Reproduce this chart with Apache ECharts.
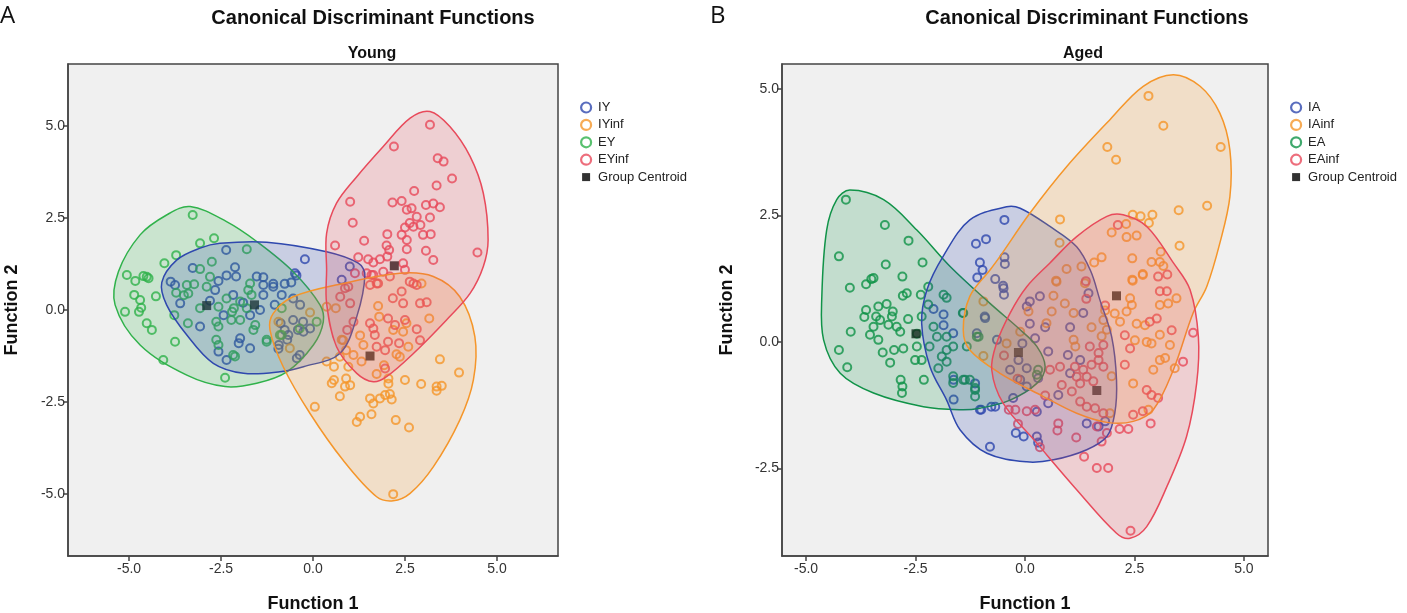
<!DOCTYPE html>
<html>
<head>
<meta charset="utf-8">
<script src="https://cdn.jsdelivr.net/npm/echarts@6/dist/echarts.min.js"></script>
<style>html,body{margin:0;padding:0;background:#fff;}#c{width:1407px;height:613px;}</style>
</head>
<body>
<div id="c"></div>
<script>
// ---------- tick labels ----------
const xTicks = [-5, -2.5, 0, 2.5, 5];
const yTicksA = [-5, -2.5, 0, 2.5, 5];
const yTicksB = [-2.5, 0, 2.5, 5];

// ---------- Panel A: Young ----------
const IY = [[-2.36,1.63],[-0.22,1.38],[-2.12,1.16],[-3.27,1.14],[-2.35,0.94],[-2.09,0.91],[-1.53,0.91],[-1.35,0.89],[-1.08,0.71],[-0.77,0.71],[-0.59,0.75],[-0.45,0.94],[-3.87,0.77],[-3.75,0.68],[-2.57,0.79],[-2.66,0.54],[-1.35,0.68],[-1.35,0.41],[-1.08,0.63],[-0.54,0.31],[-3.61,0.18],[-3.07,-0.45],[-2.43,-0.14],[-1.44,0.00],[-1.04,0.14],[-0.85,0.41],[-1.98,-0.77],[-2.02,-0.90],[-1.71,-1.04],[-2.57,-1.13],[-2.35,-1.36],[-0.93,-0.95],[-0.70,-0.81],[-0.54,-0.27],[-0.27,-0.32],[-0.41,-0.54],[-0.77,-0.54],[-0.36,-1.22],[-0.88,-0.36],[-1.71,-0.14],[-2.17,0.41],[1.00,1.18],[0.78,0.82],[-0.49,1.00],[-0.94,-1.05],[-0.26,-0.59],[-0.35,0.14],[-0.08,-0.50],[-0.67,-0.68],[-0.44,-1.31],[-1.90,0.20],[-2.80,0.25]];
const IYinf = [[2.18,-5.00],[0.05,-2.63],[1.19,-3.04],[1.28,-2.90],[1.59,-2.83],[2.25,-2.99],[2.61,-3.19],[1.55,-2.40],[1.64,-2.54],[1.82,-2.40],[1.96,-2.31],[2.09,-2.28],[2.14,-2.43],[0.73,-2.34],[0.51,-1.99],[0.57,-1.90],[0.90,-1.86],[0.87,-2.08],[1.01,-2.04],[2.05,-2.00],[2.50,-1.90],[2.94,-2.01],[3.36,-2.08],[3.50,-2.06],[3.36,-2.19],[3.45,-1.34],[3.97,-1.70],[0.37,-1.40],[0.57,-1.54],[0.73,-1.27],[0.96,-1.54],[0.78,-0.81],[0.90,-1.09],[1.10,-1.22],[1.32,-1.40],[1.73,-1.74],[2.05,-1.86],[1.28,-0.69],[1.37,-0.95],[1.77,0.11],[1.80,-0.18],[2.18,-0.54],[2.45,-0.59],[2.36,-1.27],[2.59,-1.00],[2.27,-1.20],[2.54,-0.36],[3.16,-0.23],[2.95,0.72],[-0.08,-0.07],[-0.63,-1.04],[-0.94,-0.32],[0.37,0.09],[0.62,0.05],[0.82,-0.82],[1.93,-1.50]];
const EY = [[-3.27,2.58],[-3.07,1.81],[-2.69,1.95],[-1.80,1.65],[-3.72,1.49],[-4.04,1.27],[-5.06,0.95],[-4.83,0.79],[-4.61,0.92],[-4.52,0.90],[-4.47,0.86],[-2.75,1.31],[-4.86,0.41],[-4.70,0.27],[-4.27,0.37],[-5.11,-0.05],[-4.73,-0.05],[-4.67,0.06],[-4.52,-0.36],[-4.38,-0.54],[-3.75,-0.86],[-4.07,-1.36],[-2.39,-1.84],[-3.77,-0.14],[-3.40,-0.36],[-3.51,0.40],[-3.43,0.68],[-3.23,0.70],[-3.07,1.11],[-2.80,0.90],[-2.89,0.63],[-3.72,0.47],[-3.39,0.45],[-3.07,0.05],[-2.57,0.09],[-2.35,0.31],[-2.15,0.05],[-1.98,0.23],[-1.76,0.54],[-1.67,0.41],[-1.71,0.72],[-2.20,-0.05],[-1.80,0.05],[-2.63,-0.32],[-2.22,-0.27],[-1.98,-0.27],[-2.57,-0.45],[-1.57,-0.41],[-1.62,-0.54],[-2.63,-0.81],[-2.57,-0.95],[-2.17,-1.22],[-2.12,-1.26],[-1.26,-0.81],[-0.85,-0.68],[0.10,-0.32],[-0.36,-0.50],[-0.85,0.05],[-1.26,-0.86],[-0.90,-0.68]];
const EYinf = [[3.18,5.03],[2.20,4.44],[3.39,4.12],[3.55,4.03],[3.78,3.57],[3.36,3.38],[2.75,3.23],[1.01,2.94],[2.16,2.92],[2.41,2.96],[2.55,2.72],[2.68,2.76],[3.07,2.85],[3.27,2.89],[3.45,2.79],[1.08,2.37],[2.82,2.53],[3.18,2.51],[2.63,2.36],[2.50,2.24],[2.73,2.26],[2.92,2.31],[2.41,2.04],[2.99,2.04],[3.20,2.06],[2.02,2.06],[2.55,1.90],[1.39,1.88],[0.60,1.75],[2.00,1.75],[2.07,1.63],[2.55,1.65],[3.07,1.61],[4.47,1.56],[1.23,1.43],[1.50,1.38],[1.64,1.29],[1.82,1.38],[2.02,1.45],[3.27,1.36],[2.45,1.27],[2.50,1.09],[1.46,1.00],[1.64,0.95],[1.91,1.04],[2.09,0.91],[1.55,0.68],[1.77,0.72],[2.63,0.77],[2.82,0.68],[0.87,0.59],[1.14,1.00],[1.59,0.95],[1.73,0.72],[2.41,0.50],[2.17,0.32],[2.73,0.72],[2.91,0.18],[3.09,0.21],[2.45,0.18],[2.23,-0.41],[1.55,-0.36],[1.64,-0.50],[1.68,-0.68],[2.04,-0.23],[2.50,-0.27],[2.82,-0.52],[2.91,-0.82],[2.04,-0.86],[2.34,-0.90],[1.96,-1.09],[1.73,-1.00],[0.93,-0.54],[1.10,-0.32],[1.01,0.18],[0.74,0.36],[0.96,0.63],[1.96,-1.59]];
const centA = [[-2.89,0.12],[-1.59,0.14],[2.21,1.20],[1.55,-1.25]];

const hullIY = [[-4.11,0.75],[-3.70,1.36],[-3.07,1.68],[-2.53,1.81],[-1.26,1.84],[0.37,1.58],[1.23,1.27],[1.41,0.95],[1.19,-0.18],[0.73,-1.18],[-0.26,-1.54],[-0.90,-1.68],[-1.89,-1.72],[-2.71,-1.45],[-3.43,-0.68],[-3.98,0.14]];
const hullIYinf = [[-1.08,-0.09],[-0.54,0.36],[0.82,0.72],[2.36,1.00],[3.27,0.91],[3.99,0.36],[4.40,-0.72],[4.36,-1.90],[3.99,-2.99],[3.27,-4.26],[2.64,-4.98],[2.18,-5.18],[1.73,-5.07],[0.82,-4.08],[-0.08,-2.81],[-0.81,-1.54],[-1.17,-0.54]];
const hullEY = [[-3.34,2.81],[-2.35,2.40],[-1.53,1.86],[-0.54,1.04],[0.19,0.14],[0.28,-0.32],[0.01,-0.95],[-0.71,-1.68],[-1.53,-1.99],[-2.39,-2.08],[-3.43,-1.77],[-4.70,-0.95],[-5.38,0.14],[-5.29,1.04],[-4.70,2.04],[-3.98,2.58]];
const hullEYinf = [[3.18,5.39],[3.72,4.98],[4.27,4.17],[4.63,3.17],[4.76,1.90],[4.63,1.18],[4.27,0.45],[3.63,-0.27],[2.73,-1.18],[2.00,-1.81],[1.64,-1.95],[1.19,-1.72],[0.64,-1.00],[0.37,0.18],[0.37,1.09],[0.37,2.08],[0.64,2.90],[1.19,3.62],[1.91,4.44],[2.64,5.21]];

// ---------- Panel B: Aged ----------
const IA = [[-0.47,2.41],[-1.12,1.94],[-0.89,2.03],[-1.03,1.57],[-0.97,1.42],[-1.09,1.27],[-0.47,1.67],[-0.46,1.54],[-0.68,1.24],[-0.50,1.11],[-0.48,0.93],[-2.09,0.65],[-1.86,0.54],[-1.64,0.17],[-1.86,0.33],[-0.92,0.50],[-1.63,-0.75],[-1.63,-1.14],[-1.00,-1.34],[-0.77,-1.28],[-1.14,-0.82],[-0.06,-0.03],[-1.10,0.17],[-0.64,0.04],[-0.49,1.06],[-0.91,0.47],[0.04,0.70],[0.11,0.80],[0.34,0.90],[0.11,0.36],[0.46,0.29],[1.03,0.29],[1.45,0.96],[1.33,0.57],[0.23,0.07],[0.53,-0.19],[0.98,-0.26],[1.26,-0.36],[-0.15,-0.36],[0.04,-0.52],[-0.34,-0.55],[-0.11,-0.75],[0.30,-0.72],[0.04,-0.88],[-0.27,-1.11],[0.76,-1.05],[0.53,-1.21],[0.27,-1.38],[-0.21,-1.80],[-0.03,-1.87],[0.27,-1.87],[0.30,-1.99],[-0.80,-2.07],[-1.03,-1.34],[-0.68,-1.28],[1.41,-1.61],[1.68,-1.67],[1.83,-1.57],[1.03,-0.62]];
const IAinf = [[2.82,4.86],[3.16,4.27],[4.47,3.85],[1.88,3.85],[2.08,3.60],[0.80,2.42],[2.46,2.51],[2.64,2.48],[2.91,2.51],[2.83,2.35],[3.51,2.60],[4.16,2.69],[3.53,1.90],[3.10,1.78],[2.31,2.33],[1.98,2.16],[2.32,2.07],[2.55,2.10],[0.79,1.96],[1.75,1.67],[1.58,1.57],[2.45,1.65],[2.89,1.58],[3.08,1.58],[3.16,1.50],[2.69,1.34],[2.45,1.23],[0.95,1.44],[1.29,1.49],[0.71,1.21],[0.72,1.19],[1.37,1.16],[2.46,1.21],[2.69,1.32],[0.65,0.91],[0.91,0.76],[0.61,0.60],[1.11,0.57],[0.08,0.60],[0.49,0.37],[1.52,0.29],[1.83,0.62],[1.87,0.24],[1.75,0.11],[1.79,0.43],[2.05,0.56],[2.40,0.86],[2.44,0.73],[2.32,0.60],[2.17,0.40],[2.55,0.36],[2.74,0.33],[3.08,0.73],[3.27,0.76],[3.46,0.86],[3.08,0.14],[2.78,0.00],[2.89,-0.03],[3.31,-0.06],[2.51,0.03],[3.08,-0.36],[3.20,-0.32],[2.93,-0.55],[3.42,-0.52],[2.47,-0.82],[2.82,-1.34],[-0.95,0.80],[-0.95,-0.28],[-0.42,-0.03],[-0.11,0.20],[1.11,0.04],[1.15,-0.09],[1.98,-0.68],[1.94,-1.41]];
const EA = [[-4.09,2.81],[-3.20,2.31],[-2.66,2.00],[-4.25,1.69],[-3.18,1.53],[-2.34,1.57],[-2.80,1.29],[-4.00,1.07],[-3.63,1.14],[-3.51,1.24],[-3.46,1.26],[-2.79,0.91],[-2.70,0.96],[-2.38,0.93],[-2.21,1.09],[-3.63,0.63],[-3.67,0.49],[-3.35,0.70],[-3.16,0.75],[-3.02,0.60],[-3.04,0.50],[-3.40,0.50],[-3.46,0.30],[-3.31,0.43],[-3.12,0.34],[-2.93,0.30],[-2.85,0.20],[-3.54,0.14],[-3.35,0.04],[-3.98,0.20],[-4.25,-0.16],[-4.06,-0.50],[-3.25,-0.21],[-3.08,-0.41],[-2.99,-0.16],[-2.78,-0.13],[-2.67,0.45],[-2.36,0.50],[-2.47,-0.09],[-2.36,-0.36],[-2.51,-0.36],[-2.18,-0.09],[-2.84,-0.75],[-2.80,-0.88],[-2.81,-1.01],[-2.31,-0.75],[-2.09,0.30],[-2.01,0.10],[-1.79,0.10],[-1.79,-0.16],[-1.64,-0.09],[-1.90,-0.29],[-1.79,-0.39],[-1.98,-0.52],[-1.64,-0.68],[-1.64,-0.81],[-1.41,-0.75],[-1.26,-0.75],[-1.14,-0.95],[-1.42,0.57],[-1.86,0.93],[-1.79,0.87],[-2.21,0.74],[-1.06,0.10],[-2.47,0.16],[-1.41,0.57],[-1.33,-0.09],[-1.10,0.10],[-1.37,-0.75],[-1.14,-0.91],[-1.14,-1.08],[0.27,-0.65],[0.30,-0.55]];
const EAinf = [[2.41,-3.73],[1.64,-2.49],[1.90,-2.49],[1.35,-2.27],[1.17,-1.89],[0.76,-1.61],[0.74,-1.75],[0.34,-2.08],[-0.16,-1.62],[-0.37,-1.34],[-0.22,-1.34],[0.04,-1.37],[0.23,-1.34],[0.46,-1.06],[0.84,-0.85],[1.07,-0.98],[1.26,-1.18],[1.41,-1.28],[1.60,-1.31],[1.79,-1.41],[1.87,-1.80],[1.75,-1.97],[1.64,-1.67],[2.16,-1.72],[2.36,-1.72],[2.47,-1.44],[2.69,-1.37],[2.87,-1.61],[2.78,-0.95],[2.89,-1.05],[3.04,-1.11],[0.57,-0.55],[0.80,-0.49],[1.14,-0.49],[1.33,-0.55],[1.52,-0.45],[1.68,-0.36],[1.79,-0.49],[1.18,-0.69],[1.41,-0.69],[1.26,-0.82],[1.56,-0.78],[1.48,-0.09],[1.79,-0.06],[1.68,-0.22],[2.28,-0.45],[2.40,-0.13],[2.28,0.13],[2.85,0.40],[3.01,0.46],[3.35,0.23],[3.61,-0.39],[3.84,0.18],[1.83,0.72],[1.40,0.85],[3.08,1.00],[3.24,1.00],[-0.17,-0.73],[-0.48,-0.27],[2.12,2.31],[3.04,1.29],[3.25,1.33],[1.39,1.20]];
const centB = [[-2.49,0.16],[-0.15,-0.21],[1.64,-0.96],[2.09,0.91]];

const hullIA = [[-0.42,2.67],[-1.26,2.41],[-1.87,1.69],[-2.24,1.03],[-2.36,0.37],[-2.17,-0.49],[-1.79,-1.15],[-1.48,-1.74],[-0.87,-2.20],[0.04,-2.37],[0.65,-2.33],[1.41,-2.13],[1.87,-1.87],[2.05,-1.41],[2.09,-0.75],[1.98,0.10],[1.71,0.83],[1.50,1.40],[1.18,1.88],[0.57,2.28],[-0.11,2.64]];
const hullIAinf = [[3.39,5.28],[4.00,5.05],[4.45,4.52],[4.68,3.79],[4.68,2.87],[4.45,1.95],[4.15,1.09],[3.84,0.57],[3.39,-0.55],[2.93,-1.34],[2.47,-1.57],[1.87,-1.59],[1.18,-1.41],[0.42,-1.08],[-0.57,-0.62],[-1.26,-0.16],[-1.41,0.24],[-1.26,0.90],[-0.80,1.42],[-0.57,1.69],[0.11,2.54],[0.95,3.46],[1.94,4.39],[2.70,5.05]];
const hullEA = [[-4.00,3.00],[-3.23,2.81],[-2.47,2.21],[-1.71,1.49],[-0.80,0.76],[-0.11,0.24],[0.27,-0.09],[0.46,-0.49],[0.27,-0.82],[-0.34,-1.15],[-1.03,-1.31],[-1.48,-1.34],[-2.32,-1.28],[-3.46,-1.01],[-4.22,-0.62],[-4.60,0.04],[-4.64,0.90],[-4.53,2.21],[-4.30,2.81]];
const hullEAinf = [[2.24,2.51],[2.78,2.28],[3.39,1.56],[3.77,1.03],[3.96,0.10],[3.92,-0.82],[3.69,-1.87],[3.24,-2.86],[2.78,-3.65],[2.40,-3.88],[2.09,-3.78],[1.18,-2.92],[0.27,-2.00],[-0.50,-1.21],[-0.76,-0.55],[-0.65,-0.03],[-0.34,0.57],[0.04,1.09],[0.57,1.56],[1.18,2.08],[1.87,2.48]];

// ---------- styling ----------
const C = {blue:'#2f48ae', orange:'#f5962a', greenA:'#30b24b', greenB:'#109348', red:'#e84a5b'};
const FONT = "'Liberation Sans', Arial, sans-serif";
const NARROW = "'Liberation Sans Narrow', 'Liberation Sans', Arial, sans-serif";

function hexA(h, a){const n=parseInt(h.slice(1),16);return `rgba(${n>>16&255},${n>>8&255},${n&255},${a})`;}

function pts(name, data, color, gi){
  return {type:'scatter', name, xAxisIndex:gi, yAxisIndex:gi, data, symbol:'circle', symbolSize:8,
    itemStyle:{color:'rgba(0,0,0,0)', borderColor:color, borderWidth:2}, silent:true, z:2};
}
function cent(data, gi){
  return {type:'scatter', name:'Group Centroid', xAxisIndex:gi, yAxisIndex:gi, data, symbol:'rect', symbolSize:9,
    itemStyle:{color:'#111'}, silent:true, z:2};
}
function hull(hp, color, gi){
  return {type:'custom', xAxisIndex:gi, yAxisIndex:gi, data:hp, silent:true, z:3, clip:true,
    encode:{x:0,y:1},
    renderItem:function(params, api){
      if(params.dataIndex!==0) return null;
      const p = hp.map(q=>api.coord(q));
      return {type:'polygon', shape:{points:p, smooth:0.35},
        style:{fill:hexA(color,0.2), stroke:color, lineWidth:1.5}};
    }};
}
function xAx(gi, min, max){
  return {gridIndex:gi, type:'value', min, max, name:'Function 1', nameLocation:'middle', nameGap:39,
    nameTextStyle:{fontFamily:FONT, fontWeight:'bold', fontSize:18, color:'#111'},
    axisLine:{show:true, onZero:false, lineStyle:{color:'#444', width:1.5}},
    axisTick:{show:true, length:5, customValues:xTicks, lineStyle:{color:'#444', width:1.5}},
    axisLabel:{customValues:xTicks, formatter:v=>Number(v).toFixed(1), fontFamily:NARROW, fontSize:14, color:'#333', margin:6},
    splitLine:{show:false}};
}
function yAx(gi, min, max, ticks, gap){
  return {gridIndex:gi, type:'value', min, max, name:'Function 2', nameLocation:'middle', nameGap:gap, nameRotate:90,
    nameTextStyle:{fontFamily:FONT, fontWeight:'bold', fontSize:18, color:'#111'},
    axisLine:{show:true, onZero:false, lineStyle:{color:'#444', width:1.5}},
    axisTick:{show:true, length:5, customValues:ticks, lineStyle:{color:'#444', width:1.5}},
    axisLabel:{customValues:ticks, formatter:v=>Number(v).toFixed(1), fontFamily:NARROW, fontSize:14, color:'#333', margin:3},
    splitLine:{show:false}};
}
const sq = 'image://data:image/svg+xml;utf8,' + encodeURIComponent('<svg xmlns="http://www.w3.org/2000/svg" width="10" height="10"><rect x="1" y="1" width="8" height="8" fill="black"/></svg>');
function leg(left, names, colors){
  const data = names.map((n,i)=>({name:n, icon:'circle', itemStyle:{color:'rgba(0,0,0,0)', borderColor:colors[i], borderWidth:2.2}}));
  data.push({name:'Group Centroid', icon:sq, itemStyle:{color:'#111'}});
  return {orient:'vertical', left, top:101, padding:0, itemWidth:10, itemHeight:10, itemGap:4.4, data, selectedMode:false,
    textStyle:{fontFamily:FONT, fontSize:13, color:'#222', padding:[0,0,0,2]}};
}

const chart = echarts.init(document.getElementById('c'), null, {renderer:'canvas'});
chart.setOption({
  animation:false,
  backgroundColor:'#fff',
  title:[
    {text:'A', left:0, top:4, padding:0, textStyle:{fontFamily:"'Open Sans', sans-serif", fontWeight:'normal', fontSize:24, color:'#111'}},
    {text:'B', left:710, top:4, padding:0, textStyle:{fontFamily:"'Open Sans', sans-serif", fontWeight:'normal', fontSize:24, color:'#111'}},
    {text:'Canonical Discriminant Functions', left:373, top:8, padding:0, textAlign:'center', textStyle:{fontFamily:FONT, fontWeight:'bold', fontSize:20, color:'#111'}},
    {text:'Canonical Discriminant Functions', left:1087, top:8, padding:0, textAlign:'center', textStyle:{fontFamily:FONT, fontWeight:'bold', fontSize:20, color:'#111'}},
    {text:'Young', left:372, top:46, padding:0, textAlign:'center', textStyle:{fontFamily:FONT, fontWeight:'bold', fontSize:16, color:'#111'}},
    {text:'Aged', left:1083, top:46, padding:0, textAlign:'center', textStyle:{fontFamily:FONT, fontWeight:'bold', fontSize:16, color:'#111'}}
  ],
  legend:[leg(580, ['IY','IYinf','EY','EYinf'], [C.blue,C.orange,C.greenA,C.red]),
          leg(1290, ['IA','IAinf','EA','EAinf'], [C.blue,C.orange,C.greenB,C.red])],
  grid:[
    {left:68, top:64, width:490, height:492, show:true, backgroundColor:'#f0f0f0', borderColor:'#444', borderWidth:1.5, outerBoundsMode:'none', containLabel:false},
    {left:782, top:64, width:486, height:492, show:true, backgroundColor:'#f0f0f0', borderColor:'#444', borderWidth:1.5, outerBoundsMode:'none', containLabel:false}
  ],
  xAxis:[xAx(0,-6.66,6.66), xAx(1,-5.55,5.55)],
  yAxis:[yAx(0,-6.68,6.68,yTicksA,47), yAx(1,-4.23,5.49,yTicksB,46)],
  series:[
    pts('IY', IY, C.blue, 0), pts('IYinf', IYinf, C.orange, 0), pts('EY', EY, C.greenA, 0), pts('EYinf', EYinf, C.red, 0),
    cent(centA, 0),
    hull(hullEY, C.greenA, 0), hull(hullIY, C.blue, 0), hull(hullIYinf, C.orange, 0), hull(hullEYinf, C.red, 0),
    pts('IA', IA, C.blue, 1), pts('IAinf', IAinf, C.orange, 1), pts('EA', EA, C.greenB, 1), pts('EAinf', EAinf, C.red, 1),
    cent(centB, 1),
    hull(hullEA, C.greenB, 1), hull(hullIA, C.blue, 1), hull(hullIAinf, C.orange, 1), hull(hullEAinf, C.red, 1)
  ]
});
</script>
</body>
</html>
